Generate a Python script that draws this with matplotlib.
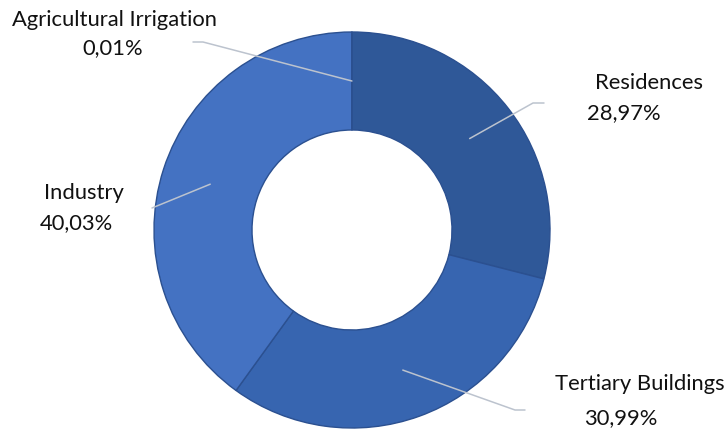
import matplotlib.pyplot as plt
import numpy as np

labels = ['Residences', 'Tertiary Buildings', 'Industry', 'Agricultural Irrigation']
shares = [28.97, 30.99, 40.03, 0.01]
colors = ['#2f5898', '#3765b0', '#4472c2', '#4472c2']

# label anchor (name line, percent line) and leader elbow, in pixels from top-left
name_xy = [(649, 83), (640, 384), (84, 193), (115, 20)]
pct_xy = [(624, 113), (621, 418), (76, 223), (113, 48)]
elbows = [[(533, 103), (544, 103)], [(515, 410), (525, 410)],
          [(152, 208)], [(203, 42), (193, 42)]]

W, H = 728, 429
cx, cy = 352, H - 230
R, ring = 198, 98

fig = plt.figure(figsize=(W / 100, H / 100), dpi=100)
ax = fig.add_axes([0, 0, 1, 1])
ax.set_xlim(0, W)
ax.set_ylim(0, H)
ax.set_aspect('equal')
ax.axis('off')

wedges, _ = ax.pie(shares, colors=colors, startangle=90, counterclock=False,
                   center=(cx, cy), radius=R,
                   wedgeprops=dict(width=ring, edgecolor='#2b5090', linewidth=1.0))
ax.set_xlim(0, W)
ax.set_ylim(0, H)

plt.rcParams['font.family'] = ['Lato', 'DejaVu Sans']
for i, w in enumerate(wedges):
    mid = np.deg2rad((w.theta1 + w.theta2) / 2)
    r_mid = R - ring / 2
    x0, y0 = cx + r_mid * np.cos(mid), cy + r_mid * np.sin(mid)
    xs = [x0] + [p[0] for p in elbows[i]]
    ys = [y0] + [H - p[1] for p in elbows[i]]
    ax.plot(xs, ys, color='#bcc3ce', lw=1.1, solid_capstyle='round')
    pct = f'{shares[i]:.2f}'.replace('.', ',') + '%'
    ax.text(name_xy[i][0], H - name_xy[i][1], labels[i], ha='center', va='center',
            fontsize=15.8, color='#111111', family=['Lato', 'DejaVu Sans'])
    ax.text(pct_xy[i][0], H - pct_xy[i][1], pct, ha='center', va='center',
            fontsize=15.8, color='#111111', family=['Lato', 'DejaVu Sans'])

fig.savefig('out.png', dpi=100)
